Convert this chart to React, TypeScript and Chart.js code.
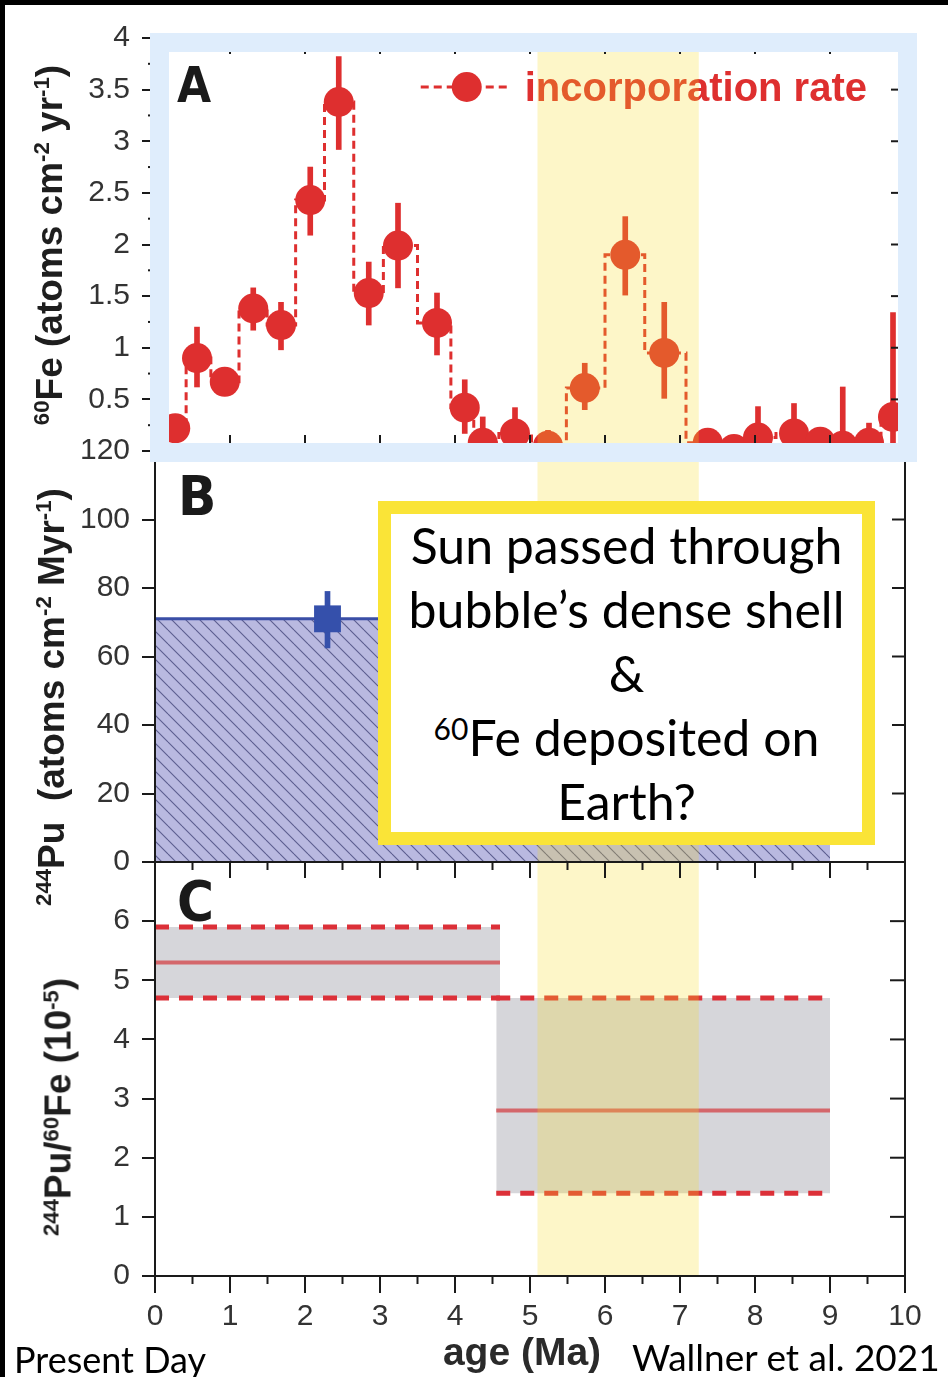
import React, { useEffect, useRef } from 'react';
import { Chart, registerables } from 'chart.js';

Chart.register(...registerables);

// ---------------- data ----------------
const ageTickValues = [0, 1, 2, 3, 4, 5, 6, 7, 8, 9, 10];
const shellAges = [5.1, 7.25];

// Panel A: 60Fe incorporation rate
const feAges = [0.27, 0.56, 0.93, 1.31, 1.68, 2.07, 2.45, 2.85, 3.24, 3.76, 4.13, 4.37, 4.8, 5.24, 5.73, 6.27, 6.79, 7.37, 7.72, 8.04, 8.52, 8.87, 9.17, 9.52, 9.84];
const feRates = [0.22, 0.9, 0.67, 1.38, 1.22, 2.43, 3.38, 1.53, 1.99, 1.24, 0.42, 0.08, 0.17, 0.05, 0.61, 1.9, 0.95, 0.08, 0.02, 0.13, 0.17, 0.09, 0.05, 0.08, 0.33];
const feErrLow = [0.12, 0.62, 0.55, 1.17, 0.98, 2.09, 2.92, 1.22, 1.58, 0.93, 0.17, 0, 0, 0, 0.4, 1.51, 0.51, 0, 0, 0, 0, 0, 0, 0, 0];
const feErrHigh = [0.32, 1.2, 0.8, 1.58, 1.44, 2.75, 3.82, 1.83, 2.4, 1.53, 0.69, 0.33, 0.42, 0.2, 0.85, 2.27, 1.44, 0.15, 0.05, 0.43, 0.46, 0.12, 0.62, 0.27, 1.34];
const feLabel = 'incorporation rate';

// Panel B: 244Pu
const puAges = [2.3];
const puRates = [71];
const puErrLow = [62.5];
const puErrHigh = [79];
const puFluxAges = [0, 9];
const puFluxLevels = [71, 71];

// Panel C: 244Pu/60Fe ratio
const ratioStart = [0, 4.55];
const ratioEnd = [4.6, 9];
const ratioMean = [5.3, 2.8];
const ratioLow = [4.7, 1.4];
const ratioHigh = [5.9, 4.7];

// ---------------- styles ----------------
const PAGE_W = 948;
const PAGE_H = 1377;
const RED = '#de2f2f';
const DASH_RED = '#dc3038';
const MEAN_RED = '#d4676b';
const GREY = '#d6d6da';
const BLUE = '#3550ab';
const BLUE_LINE = '#3a4ea6';
const BAND = 'rgba(247, 219, 35, 0.25)';
const FRAME = '#dfedfc';
const AXIS = '#1a1a1a';
const TICK_COLOR = '#333';
const SANS = '"Liberation Sans", Arial, Helvetica, sans-serif';
const TICK_FONT = { family: SANS, size: 30 };
const NOTE_FONT = 'Lato, "Open Sans", sans-serif';

const steps = (from: number, to: number, step: number) => {
  const out: number[] = [];
  for (let v = from; v <= to + 1e-9; v += step) out.push(Math.round(v * 1000) / 1000);
  return out;
};
const halfAges = steps(0.5, 9.5, 1);

const decorPlugin = {
  id: 'decor',
  afterDatasetsDraw(chart: any, _args: any, opts: any) {
    const { ctx, chartArea: ca, scales } = chart;
    const xs = scales.x;
    const ys = scales.y;
    ctx.save();
    if (opts.legend) {
      const label = chart.data.datasets[0].label;
      const cy = ca.top + 49;
      ctx.font = `bold 40px ${SANS}`;
      const tw = ctx.measureText(label).width;
      const tl = ca.right - 38 - tw;
      ctx.fillStyle = RED;
      ctx.textBaseline = 'alphabetic';
      ctx.fillText(label, tl, ca.top + 63);
      ctx.strokeStyle = RED;
      ctx.lineWidth = 3;
      ctx.setLineDash([8, 5]);
      ctx.beginPath();
      ctx.moveTo(tl - 104, cy);
      ctx.lineTo(tl - 14, cy);
      ctx.stroke();
      ctx.setLineDash([]);
      ctx.beginPath();
      ctx.arc(tl - 58, cy, 15, 0, Math.PI * 2);
      ctx.fill();
    }
    if (opts.band) {
      const x0 = xs.getPixelForValue(opts.band[0]);
      const x1 = xs.getPixelForValue(opts.band[1]);
      ctx.fillStyle = BAND;
      ctx.fillRect(x0, ca.top, x1 - x0, ca.bottom - ca.top);
    }
    ctx.strokeStyle = AXIS;
    ctx.lineWidth = 2;
    ctx.strokeRect(ca.left, ca.top, ca.right - ca.left, ca.bottom - ca.top);
    for (const t of opts.ticks || []) {
      for (const v of t.values) {
        ctx.beginPath();
        if (t.side === 'left' || t.side === 'right') {
          const py = ys.getPixelForValue(v);
          const bx = t.side === 'left' ? ca.left : ca.right;
          const sgn = (t.side === 'left' ? 1 : -1) * (t.dir === 'in' ? 1 : -1);
          ctx.moveTo(bx, py);
          ctx.lineTo(bx + sgn * t.len, py);
        } else {
          const px = xs.getPixelForValue(v);
          const by = t.side === 'top' ? ca.top : ca.bottom;
          const sgn = (t.side === 'top' ? 1 : -1) * (t.dir === 'in' ? 1 : -1);
          ctx.moveTo(px, by);
          ctx.lineTo(px, by + sgn * t.len);
        }
        ctx.stroke();
      }
    }
    if (opts.frame) {
      ctx.strokeStyle = FRAME;
      ctx.lineWidth = 19;
      const l = ca.left + 4.5;
      const t = ca.top + 4.5;
      const r = ca.right + 2.5;
      const b = ca.bottom + 1.5;
      ctx.strokeRect(l, t, r - l, b - t);
    }
    ctx.restore();
  },
};

function yAxis(min: number, max: number, step: number, hidden: number[]) {
  return {
    type: 'linear',
    min,
    max,
    afterFit: (s: any) => {
      s.width = 155;
    },
    ticks: {
      stepSize: step,
      font: TICK_FONT,
      color: TICK_COLOR,
      padding: 12,
      callback: (v: any) => (hidden.includes(Number(v)) ? '' : String(v)),
    },
    grid: { drawOnChartArea: false, tickLength: 13, color: AXIS, lineWidth: 2 },
    border: { display: false },
  };
}

const hiddenX = { type: 'linear', min: 0, max: 10, display: false, offset: false };

function baseOptions(top: number, bottom: number, scales: any, decor: any) {
  return {
    responsive: false,
    animation: false,
    devicePixelRatio: 1,
    events: [],
    layout: { padding: { top, bottom, left: 0, right: PAGE_W - 905 } },
    scales,
    plugins: {
      legend: { display: false },
      tooltip: { enabled: false },
      filler: { drawTime: 'beforeDatasetsDraw' },
      decor,
    },
  };
}

function makeHatch(ctx: CanvasRenderingContext2D) {
  const s = 14;
  const c = document.createElement('canvas');
  c.width = s;
  c.height = s;
  const g = c.getContext('2d')!;
  g.fillStyle = '#b9b9e0';
  g.fillRect(0, 0, s, s);
  g.strokeStyle = 'rgba(60,62,115,0.75)';
  g.lineWidth = 1.1;
  for (const off of [-s, 0, s]) {
    g.beginPath();
    g.moveTo(0, off);
    g.lineTo(s, s + off);
    g.stroke();
  }
  return ctx.createPattern(c, 'repeat');
}

function makeA(canvas: HTMLCanvasElement) {
  return new Chart(canvas, {
    type: 'line',
    data: {
      datasets: [
        {
          type: 'line',
          label: feLabel,
          data: feAges.map((a, i) => ({ x: a, y: feRates[i] })),
          stepped: 'middle',
          borderColor: RED,
          borderWidth: 3,
          borderDash: [8, 5],
          pointRadius: 15,
          pointBackgroundColor: RED,
          pointBorderWidth: 0,
          fill: false,
        },
        {
          type: 'bar',
          label: 'error',
          data: feAges.map((a, i) => ({ x: a, y: [feErrLow[i], feErrHigh[i]] })),
          backgroundColor: RED,
          barThickness: 5,
          borderWidth: 0,
        },
      ],
    },
    options: baseOptions(
      38,
      PAGE_H - 451,
      { x: hiddenX, y: yAxis(0, 4, 0.5, [0]) },
      {
        legend: true,
        band: shellAges,
        frame: true,
        ticks: [
          { side: 'left', dir: 'out', len: 7, values: steps(0.25, 3.75, 0.5) },
          { side: 'right', dir: 'in', len: 14, values: steps(0.5, 3.5, 0.5) },
          { side: 'right', dir: 'in', len: 7, values: steps(0.25, 3.75, 0.5) },
          { side: 'top', dir: 'in', len: 16, values: ageTickValues },
          { side: 'top', dir: 'in', len: 8, values: halfAges },
          { side: 'bottom', dir: 'in', len: 16, values: ageTickValues },
          { side: 'bottom', dir: 'in', len: 8, values: halfAges },
        ],
      }
    ) as any,
    plugins: [decorPlugin],
  } as any);
}

function makeB(canvas: HTMLCanvasElement) {
  const ctx = canvas.getContext('2d')!;
  return new Chart(canvas, {
    type: 'line',
    data: {
      datasets: [
        {
          type: 'line',
          label: '244Pu',
          data: puAges.map((a, i) => ({ x: a, y: puRates[i] })),
          showLine: false,
          pointStyle: 'rect',
          pointRadius: 19,
          pointBackgroundColor: BLUE,
          pointBorderWidth: 0,
        },
        {
          type: 'bar',
          label: 'error',
          data: puAges.map((a, i) => ({ x: a, y: [puErrLow[i], puErrHigh[i]] })),
          backgroundColor: BLUE,
          barThickness: 5,
          borderWidth: 0,
        },
        {
          type: 'line',
          label: 'flux',
          data: puFluxAges.map((a, i) => ({ x: a, y: puFluxLevels[i] })),
          borderColor: BLUE_LINE,
          borderWidth: 3,
          pointRadius: 0,
          fill: 'origin',
          backgroundColor: makeHatch(ctx),
        },
      ],
    },
    options: baseOptions(
      451,
      PAGE_H - 862,
      { x: hiddenX, y: yAxis(0, 120, 20, []) },
      {
        band: shellAges,
        ticks: [{ side: 'right', dir: 'in', len: 13, values: steps(20, 100, 20) }],
      }
    ) as any,
    plugins: [decorPlugin],
  } as any);
}

function makeC(canvas: HTMLCanvasElement) {
  const datasets: any[] = [];
  ratioStart.forEach((s, i) => {
    const e = ratioEnd[i];
    datasets.push({
      type: 'line',
      label: 'upper',
      data: [{ x: s, y: ratioHigh[i] }, { x: e, y: ratioHigh[i] }],
      borderColor: DASH_RED,
      borderWidth: 5,
      borderDash: [14, 10],
      pointRadius: 0,
      fill: '+1',
      backgroundColor: GREY,
    });
    datasets.push({
      type: 'line',
      label: 'lower',
      data: [{ x: s, y: ratioLow[i] }, { x: e, y: ratioLow[i] }],
      borderColor: DASH_RED,
      borderWidth: 5,
      borderDash: [14, 10],
      pointRadius: 0,
      fill: false,
    });
    datasets.push({
      type: 'line',
      label: 'mean',
      data: [{ x: s, y: ratioMean[i] }, { x: e, y: ratioMean[i] }],
      borderColor: MEAN_RED,
      borderWidth: 4,
      pointRadius: 0,
      fill: false,
    });
  });
  return new Chart(canvas, {
    type: 'line',
    data: { datasets },
    options: baseOptions(
      862,
      0,
      {
        x: {
          type: 'linear',
          min: 0,
          max: 10,
          offset: false,
          afterFit: (s: any) => {
            s.height = PAGE_H - 1276;
          },
          ticks: { stepSize: 1, font: TICK_FONT, color: TICK_COLOR, padding: 6, maxRotation: 0, autoSkip: false },
          grid: { drawOnChartArea: false, tickLength: 17, color: AXIS, lineWidth: 2 },
          border: { display: false },
        },
        y: yAxis(0, 7, 1, [7]),
      },
      {
        band: shellAges,
        ticks: [
          { side: 'right', dir: 'in', len: 15, values: steps(1, 6, 1) },
          { side: 'top', dir: 'in', len: 16, values: ageTickValues },
          { side: 'top', dir: 'in', len: 8, values: halfAges },
          { side: 'bottom', dir: 'out', len: 8, values: halfAges },
        ],
      }
    ) as any,
    plugins: [decorPlugin],
  } as any);
}

const Sup = ({ children }: { children: any }) => (
  <span style={{ fontSize: '0.6em', verticalAlign: '0.55em', lineHeight: 0 }}>{children}</span>
);

const abs = (s: any) => ({ position: 'absolute', whiteSpace: 'pre', ...s }) as any;

const titleStyle = (cx: number, cy: number) =>
  abs({
    left: cx,
    top: cy,
    transform: 'translate(-50%, -50%) rotate(-90deg)',
    font: `bold 37px ${SANS}`,
    lineHeight: '37px',
    color: '#1e1e1e',
  });

const panelLetter = (left: number, top: number, size: number) =>
  abs({
    left,
    top,
    font: `bold ${size}px "Liberation Sans Narrow", "DejaVu Sans Condensed", ${SANS}`,
    lineHeight: `${size}px`,
    color: '#1a1a1a',
  });

export default function App() {
  const refA = useRef<HTMLCanvasElement>(null);
  const refB = useRef<HTMLCanvasElement>(null);
  const refC = useRef<HTMLCanvasElement>(null);

  useEffect(() => {
    const charts = [makeC(refC.current!), makeB(refB.current!), makeA(refA.current!)];
    return () => charts.forEach((c) => c.destroy());
  }, []);

  const canvasStyle: any = { position: 'absolute', left: 0, top: 0, width: PAGE_W, height: PAGE_H };

  return (
    <div style={{ position: 'absolute', left: 0, top: 0, width: PAGE_W, height: PAGE_H, background: '#fff', overflow: 'hidden' }}>
      <canvas ref={refC} width={PAGE_W} height={PAGE_H} style={canvasStyle} />
      <canvas ref={refB} width={PAGE_W} height={PAGE_H} style={canvasStyle} />
      <canvas ref={refA} width={PAGE_W} height={PAGE_H} style={canvasStyle} />

      <div style={abs({ left: 0, top: 0, width: PAGE_W, height: 5, background: '#000' })} />
      <div style={abs({ left: 0, top: 0, width: 5, height: PAGE_H, background: '#000' })} />

      <div style={titleStyle(49, 245)}>
        <Sup>60</Sup>Fe (atoms cm<Sup>-2</Sup> yr<Sup>-1</Sup>)
      </div>
      <div style={titleStyle(51, 697)}>
        <Sup>244</Sup>Pu  (atoms cm<Sup>-2</Sup> Myr<Sup>-1</Sup>)
      </div>
      <div style={titleStyle(58, 1107)}>
        <Sup>244</Sup>Pu/<Sup>60</Sup>Fe (10<Sup>-5</Sup>)
      </div>

      <div style={panelLetter(177, 61, 49)}>A</div>
      <div style={panelLetter(178, 468, 56)}>B</div>
      <div style={panelLetter(177, 873, 56)}>C</div>

      <div
        style={abs({
          left: 378,
          top: 501,
          width: 497,
          height: 344,
          boxSizing: 'border-box',
          border: '13px solid #fae437',
          background: '#fff',
          display: 'flex',
          flexDirection: 'column',
          justifyContent: 'center',
          alignItems: 'center',
          font: `50px ${NOTE_FONT}`,
          lineHeight: '64px',
          color: '#000',
          whiteSpace: 'nowrap',
        })}
      >
        <div>Sun passed through</div>
        <div>bubble’s dense shell</div>
        <div>&amp;</div>
        <div>
          <Sup>60</Sup>Fe deposited on
        </div>
        <div>Earth?</div>
      </div>

      <div style={abs({ left: 14, top: 1341, font: `36px ${NOTE_FONT}`, lineHeight: '36px', color: '#000' })}>
        Present Day
      </div>
      <div style={abs({ left: 522, top: 1332, transform: 'translateX(-50%)', font: `bold 39px ${SANS}`, lineHeight: '39px', color: '#2a2a2a' })}>
        age (Ma)
      </div>
      <div style={abs({ left: 632, top: 1338, font: `37px ${NOTE_FONT}`, lineHeight: '37px', color: '#000' })}>
        Wallner et al. 2021
      </div>
    </div>
  );
}
